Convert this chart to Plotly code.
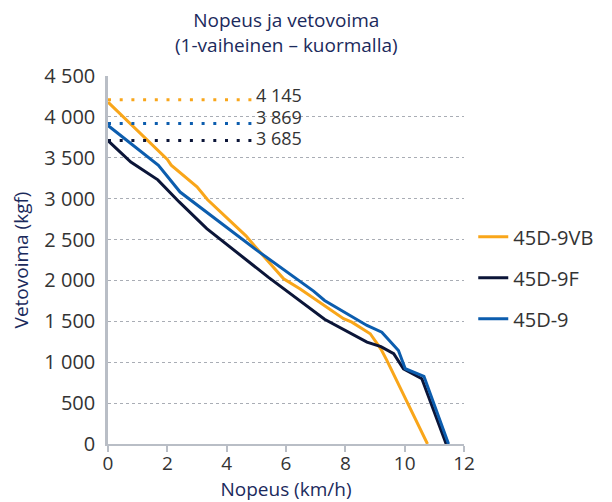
import plotly.graph_objects as go

# ---- data ----
series_names = ["45D-9VB", "45D-9F", "45D-9"]
series_colors = ["#F9A61A", "#0B1538", "#0C5DAE"]

speed_vb = [0, 2.0, 2.13, 3.0, 3.35, 4.65, 5.07, 5.92, 6.48, 7.94, 8.22, 8.84, 9.2, 9.4, 10.77]
force_vb = [4180, 3480, 3410, 3145, 2990, 2545, 2368, 2021, 1895, 1532, 1490, 1348, 1160, 1022, 0]

speed_9f = [0, 0.77, 1.68, 2.4, 3.33, 5.4, 7.3, 8.73, 9.2, 9.63, 9.96, 10.58, 11.4]
force_9f = [3710, 3448, 3230, 2960, 2633, 2041, 1525, 1245, 1190, 1104, 920, 798, 0]

speed_9 = [0, 1.7, 2.43, 5.02, 6.93, 7.3, 8.73, 9.23, 9.79, 10.02, 10.65, 11.48]
force_9 = [3895, 3408, 3081, 2368, 1870, 1755, 1450, 1368, 1144, 920, 828, 0]

# per series (VB, 9F, 9)
peak_labels = [4145, 3685, 3869]          # labelled peak forces
peak_levels = [4210, 3712, 3920]          # drawn level of dotted marker lines
peak_span = [0, 4.85]                     # speed range of dotted marker lines
peak_label_x = 4.97

x_ticks = [0, 2, 4, 6, 8, 10, 12]
y_ticks = [0, 500, 1000, 1500, 2000, 2500, 3000, 3500, 4000, 4500]

FONT = "Open Sans"
NAVY = "#1B2A5C"
TXT = "#333333"
GRID = "#A9ADB5"
AXIS = "#B9BEC6"
LABEL_SHIFTS = [5, 3, 7]   # pixel nudges for the peak labels

fig = go.Figure()

speeds = [speed_vb, speed_9f, speed_9]
forces = [force_vb, force_9f, force_9]
for i, (name, col, sx, fy) in enumerate(zip(series_names, series_colors, speeds, forces)):
    fig.add_trace(go.Scatter(x=sx, y=fy, mode="lines", name=name,
                             line=dict(color=col, width=3),
                             legendgroup=f"g{i}", hoverinfo="skip"))

for col, lvl in zip(series_colors, peak_levels):
    fig.add_trace(go.Scatter(x=peak_span, y=[lvl, lvl], mode="lines", showlegend=False,
                             line=dict(color=col, width=3, dash="3px,8.7px"),
                             hoverinfo="skip"))

for val, lvl, sh in zip(peak_labels, peak_levels, LABEL_SHIFTS):
    txt = f"{val:,}".replace(",", " ")
    fig.add_annotation(x=peak_label_x, y=lvl, xref="x", yref="y", text=txt,
                       showarrow=False, xanchor="left", yanchor="middle", yshift=sh,
                       height=17, borderpad=0,
                       font=dict(family=FONT, size=18, color=TXT))

# title as annotation above the plot area
fig.add_annotation(text="Nopeus ja vetovoima<br>(1-vaiheinen – kuormalla)",
                   x=0.5, xref="paper", y=1.0, yref="paper", yanchor="bottom",
                   yshift=16, showarrow=False, align="center",
                   font=dict(family=FONT, size=19, color=NAVY))

# the page body adds an 8px offset, so the figure is 8px smaller and margins shifted
fig.update_layout(
    width=604, height=494,
    margin=dict(l=100, r=148, t=68, b=58, pad=0, autoexpand=False),
    paper_bgcolor="white", plot_bgcolor="white",
    separators=", ",
    showlegend=True,
    legend=dict(x=1.026, xanchor="left", y=0.616, yanchor="top",
                font=dict(family=FONT, size=20, color=TXT),
                tracegroupgap=12, traceorder="grouped",
                bgcolor="rgba(0,0,0,0)"),
    xaxis=dict(range=[0, 12], tickvals=x_ticks, showgrid=False, zeroline=False,
               automargin=False,
               showline=True, linecolor=AXIS, linewidth=2,
               ticks="outside", ticklen=6, tickcolor=AXIS, tickwidth=2,
               ticklabelstandoff=-5,
               tickfont=dict(family=FONT, size=19, color=TXT),
               title=dict(text="Nopeus (km/h)", standoff=22,
                          font=dict(family=FONT, size=19, color=NAVY))),
    yaxis=dict(range=[0, 4500], tickvals=y_ticks, tickformat=",d",
               automargin=False,
               showgrid=True, gridcolor=GRID, griddash="dot", gridwidth=1,
               zeroline=False, showline=True, linecolor=AXIS, linewidth=2.5,
               ticks="", ticklabelstandoff=6,
               tickfont=dict(family=FONT, size=20, color=TXT),
               title=dict(text="Vetovoima (kgf)", standoff=23,
                          font=dict(family=FONT, size=19, color=NAVY))),
)

fig.write_html("out.html")
